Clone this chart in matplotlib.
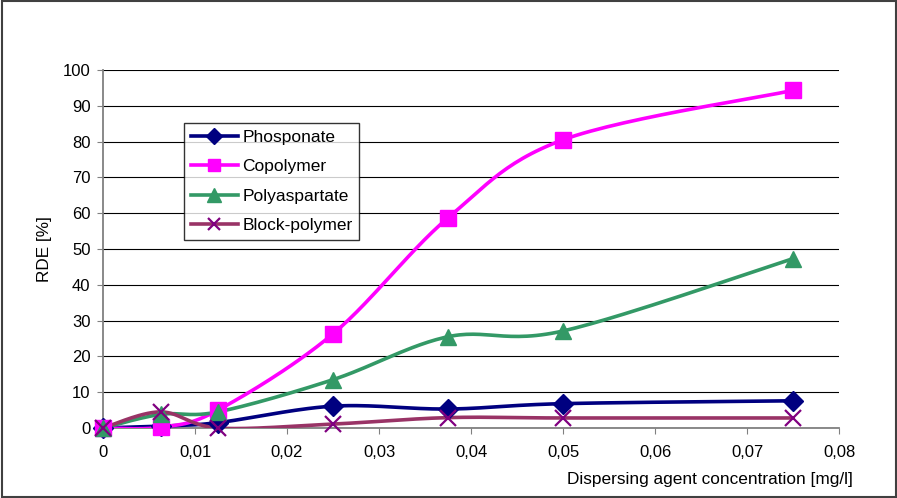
import numpy as np
import matplotlib.pyplot as plt
from matplotlib.ticker import FuncFormatter

plt.rcParams['font.family'] = ['Liberation Sans', 'DejaVu Sans']

# concentration [mg/l]
conc = [0, 0.00625, 0.0125, 0.025, 0.0375, 0.05, 0.075]

phosponate = [0, 0.5, 1.5, 6.1, 5.3, 6.8, 7.6]
copolymer = [0, 0.2, 5.0, 26.3, 58.7, 80.5, 94.3]
polyaspartate = [0, 3.8, 4.5, 13.5, 25.5, 27.1, 47.3]
block_polymer = [0, 4.5, 0, 1.1, 2.9, 2.8, 2.8]

series = [
    ("Phosponate", phosponate, "#000080", "D", "#000080", 10.5),
    ("Copolymer", copolymer, "#FF00FF", "s", "#FF00FF", 11.5),
    ("Polyaspartate", polyaspartate, "#339966", "^", "#339966", 12),
    ("Block-polymer", block_polymer, "#993366", "x", "#800080", 11),
]


def smooth(xs, ys, n=30):
    # excel-like smoothed line: bezier segments with catmull-rom control points
    p = np.column_stack([xs, ys]).astype(float)
    out = [p[0]]
    t = np.linspace(0, 1, n)[1:, None]
    for i in range(len(p) - 1):
        prev = p[i - 1] if i > 0 else p[i]
        nxt = p[i + 2] if i + 2 < len(p) else p[i + 1]
        c1 = p[i] + (p[i + 1] - prev) / 6
        c2 = p[i + 1] - (nxt - p[i]) / 6
        seg = ((1 - t) ** 3) * p[i] + 3 * ((1 - t) ** 2) * t * c1 \
            + 3 * (1 - t) * t ** 2 * c2 + t ** 3 * p[i + 1]
        out.extend(seg)
    out = np.array(out)
    return out[:, 0], out[:, 1]


fig = plt.figure(figsize=(8.97, 4.98), dpi=100)
ax = fig.add_axes([103 / 897, 70 / 498, 736 / 897, 358 / 498])

for name, vals, col, mk, mcol, ms in series:
    sx, sy = smooth(conc, vals)
    ax.plot(sx, sy, color=col, lw=2.6, solid_capstyle='round', zorder=3)
    ax.plot(conc, vals, ls='none', marker=mk, color=mcol, ms=ms,
            mew=1.6 if mk == 'x' else 1, zorder=4, clip_on=False)
    # proxy for legend
    ax.plot([], [], color=col, lw=2.6, marker=mk, ms=ms * 0.8,
            mfc=mcol, mec=mcol, mew=1.6 if mk == 'x' else 1, label=name)

ax.set_xlim(0, 0.08)
ax.set_ylim(0, 100)
ax.set_xticks(np.arange(0, 0.081, 0.01))
ax.set_yticks(np.arange(0, 101, 10))
ax.xaxis.set_major_formatter(FuncFormatter(
    lambda v, p: "0" if abs(v) < 1e-9 else f"{v:.2f}".replace('.', ',')))
ax.yaxis.grid(True, color='black', lw=0.8)
ax.set_axisbelow(True)
for s in ['top', 'right']:
    ax.spines[s].set_visible(False)
for s in ['left', 'bottom']:
    ax.spines[s].set_color('#808080')
    ax.spines[s].set_linewidth(1.3)
ax.tick_params(direction='out', length=4, color='#808080', labelsize=12,
               labelcolor='black')
ax.tick_params(axis='x', pad=8)
ax.tick_params(axis='y', pad=5)

ax.set_ylabel("RDE [%]", fontsize=12.3, va='center')
ax.yaxis.set_label_coords(-58 / 736, 0.5)
ax.set_xlabel("Dispersing agent concentration [mg/l]", fontsize=12.4,
              ha='right', va='center')
ax.xaxis.set_label_coords(750 / 736, -51 / 358)

leg = ax.legend(loc='upper left', bbox_to_anchor=(81 / 736, 1 - 53 / 358),
                fontsize=12.5, frameon=True, fancybox=False, edgecolor='black',
                handlelength=2.7, handletextpad=0.25, borderpad=0.4,
                labelspacing=0.82, borderaxespad=0)
leg.get_frame().set_linewidth(1.0)

fig.patches.append(plt.Rectangle((1.5 / 897, 1.5 / 498), 894.5 / 897, 495 / 498,
                                 transform=fig.transFigure, fill=False,
                                 edgecolor='#404040', lw=1.5))

fig.savefig("out.png", dpi=100)
